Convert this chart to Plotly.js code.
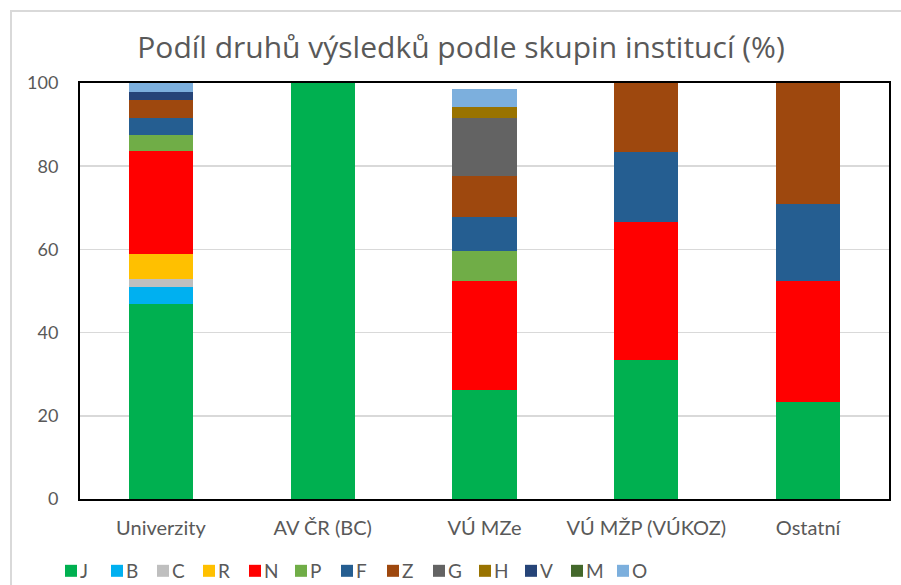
<!DOCTYPE html>
<html>
<head>
<meta charset="utf-8">
<script src="https://cdn.plot.ly/plotly-3.0.1.min.js"></script>
<style>
  html, body { margin: 0; padding: 0; background: #ffffff; }
  #frame { position: absolute; left: 10px; top: 10px; width: 900px; height: 590px;
           border-left: 2px solid #d9d9d9; border-top: 2px solid #d9d9d9; }
  #chart { position: absolute; left: 0; top: 0; width: 901px; height: 585px; }
</style>
</head>
<body>
<div id="frame"></div>
<div id="chart"></div>
<script>
const categories = ["Univerzity", "AV ČR (BC)", "VÚ MZe", "VÚ MŽP (VÚKOZ)", "Ostatní"];
const seriesNames = ["J", "B", "C", "R", "N", "P", "F", "Z", "G", "H", "V", "M", "O"];
const J = [46.9, 100, 26.1, 33.3, 23.4];
const B = [4.0, 0, 0, 0, 0];
const C = [1.9, 0, 0, 0, 0];
const R = [6.2, 0, 0, 0, 0];
const N = [24.6, 0, 26.4, 33.3, 29.1];
const P = [4.0, 0, 7.1, 0, 0];
const F = [4.0, 0, 8.3, 16.7, 18.4];
const Z = [4.3, 0, 9.7, 16.7, 29.1];
const G = [0, 0, 14.0, 0, 0];
const H = [0, 0, 2.7, 0, 0];
const V = [1.9, 0, 0, 0, 0];
const M = [0, 0, 0, 0, 0];
const O = [2.2, 0, 4.3, 0, 0];
const seriesValues = [J, B, C, R, N, P, F, Z, G, H, V, M, O];
const seriesColors = ["#00B050", "#00B0F0", "#BFBFBF", "#FFC000", "#FF0000", "#70AD47",
                      "#255E91", "#9E480E", "#636363", "#997300", "#264478", "#43682B", "#7CAFDD"];
const yTicks = [0, 20, 40, 60, 80, 100];
const titleText = "Podíl druhů výsledků podle skupin institucí (%)";

const FONT = "Lato, 'Open Sans', sans-serif";
const TFONT = "'Open Sans', Lato, sans-serif";
const TXT = "#595959";

const traces = seriesNames.map((name, i) => ({
  type: "bar",
  name: name,
  x: categories,
  y: seriesValues[i],
  marker: { color: seriesColors[i], line: { width: 0 } },
  hoverinfo: "x+y+name"
}));

const layout = {
  width: 901,
  height: 585,
  barmode: "stack",
  bargap: 0.604,
  paper_bgcolor: "rgba(0,0,0,0)",
  plot_bgcolor: "#ffffff",
  margin: { l: 80, r: 12, t: 83, b: 86, pad: 0 },
  title: {
    text: titleText,
    font: { family: TFONT, size: 30, color: TXT },
    x: 0.471, xanchor: "center", xref: "paper",
    y: 0.918, yref: "container", yanchor: "middle"
  },
  xaxis: {
    type: "category",
    showline: true, mirror: true, linecolor: "#000000", linewidth: 2,
    ticks: "", showgrid: false,
    tickfont: { family: FONT, size: 20, color: TXT },
    ticklabelstandoff: 10,
    fixedrange: true
  },
  yaxis: {
    range: [0, 100],
    tickvals: yTicks,
    ticktext: yTicks.map(String),
    showline: true, mirror: true, linecolor: "#000000", linewidth: 2,
    showgrid: true, gridcolor: "#d9d9d9", gridwidth: 1.5,
    zeroline: false, ticks: "",
    tickfont: { family: FONT, size: 18, color: TXT },
    ticklabelstandoff: 16,
    fixedrange: true
  },
  showlegend: true,
  legend: {
    orientation: "h",
    xref: "container", yref: "container",
    x: 0.0566, xanchor: "left",
    y: 0.024, yanchor: "middle",
    traceorder: "normal",
    entrywidth: 1, entrywidthmode: "pixels",
    font: { family: FONT, size: 19, color: TXT },
    bgcolor: "rgba(0,0,0,0)"
  }
};

Plotly.newPlot("chart", traces, layout, { displayModeBar: false, staticPlot: true }).then(gd => {
  // widen the legend clip box so the last (narrow-entry) label is not cut off
  gd.querySelectorAll('clipPath[id^="legend"] rect').forEach(r => {
    r.setAttribute("width", "800");
  });
  // bring legend labels closer to their colour squares, as in the original
  gd.querySelectorAll('.legend .legendtext').forEach(t => {
    t.setAttribute("x", "29");
  });
});
</script>
</body>
</html>
